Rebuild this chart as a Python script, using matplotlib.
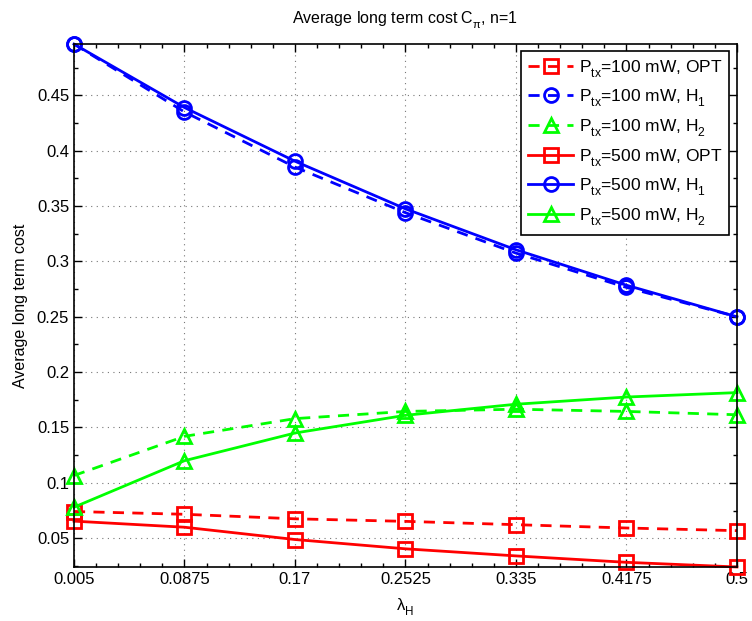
import matplotlib
matplotlib.use("Agg")
import matplotlib.pyplot as plt
import numpy as np
from matplotlib.ticker import AutoMinorLocator

plt.rcParams['font.family'] = ['Liberation Sans', 'DejaVu Sans']
plt.rcParams['mathtext.fontset'] = 'custom'
plt.rcParams['mathtext.rm'] = 'Liberation Sans'
plt.rcParams['mathtext.it'] = 'Liberation Sans'
plt.rcParams['mathtext.sf'] = 'Liberation Sans'

# drop subscripts a bit lower than the mathtext default
try:
    from matplotlib import _mathtext
    _mathtext.FontConstantsBase.sub1 = 0.65
    _mathtext.FontConstantsBase.sub2 = 0.8
except Exception:
    pass

# arrival rates on the x axis
lam_h = [0.005, 0.0875, 0.17, 0.2525, 0.335, 0.4175, 0.5]
lam_labels = ['0.005', '0.0875', '0.17', '0.2525', '0.335', '0.4175', '0.5']

# Ptx = 100 mW
opt_100 = [0.0741, 0.0716, 0.0675, 0.0652, 0.0622, 0.0592, 0.0568]
h1_100 = [0.4963, 0.4350, 0.3852, 0.3440, 0.3075, 0.2765, 0.2500]
h2_100 = [0.1066, 0.1420, 0.1580, 0.1645, 0.1665, 0.1645, 0.1615]

# Ptx = 500 mW
opt_500 = [0.0654, 0.0599, 0.0488, 0.0404, 0.0340, 0.0282, 0.0240]
h1_500 = [0.4963, 0.4390, 0.3905, 0.3475, 0.3105, 0.2785, 0.2500]
h2_500 = [0.0780, 0.1200, 0.1450, 0.1610, 0.1710, 0.1775, 0.1815]

fig = plt.figure(figsize=(7.52, 6.21), dpi=100)
ax = fig.add_axes([0.0984, 0.087, 0.8816, 0.842])

lw = 2.0
ms = 10
series = [
    (opt_100, 'r', 's', '--', r'$\mathregular{P_{tx}}$=100 mW, OPT'),
    (h1_100, 'b', 'o', '--', r'$\mathregular{P_{tx}}$=100 mW, $\mathregular{H_1}$'),
    (h2_100, (0, 1, 0), '^', '--', r'$\mathregular{P_{tx}}$=100 mW, $\mathregular{H_2}$'),
    (opt_500, 'r', 's', '-', r'$\mathregular{P_{tx}}$=500 mW, OPT'),
    (h1_500, 'b', 'o', '-', r'$\mathregular{P_{tx}}$=500 mW, $\mathregular{H_1}$'),
    (h2_500, (0, 1, 0), '^', '-', r'$\mathregular{P_{tx}}$=500 mW, $\mathregular{H_2}$'),
]
for vals, col, mk, ls, lab in series:
    ax.plot(lam_h, vals, color=col, marker=mk, linestyle=ls, linewidth=lw,
            markersize=ms, markerfacecolor='none', markeredgewidth=2.0,
            label=lab, clip_on=False, dashes=(4, 3) if ls == '--' else (None, None))

all_vals = np.concatenate([opt_100, h1_100, h2_100, opt_500, h1_500, h2_500])
ax.set_xlim(lam_h[0], lam_h[-1])
ax.set_ylim(all_vals.min(), all_vals.max())

ax.set_xticks(lam_h)
ax.set_xticklabels(lam_labels)
ax.set_yticks(np.arange(0.05, 0.46, 0.05))
ax.set_yticklabels(['0.05', '0.1', '0.15', '0.2', '0.25', '0.3', '0.35', '0.4', '0.45'])
ax.xaxis.set_minor_locator(AutoMinorLocator(5))
ax.yaxis.set_minor_locator(AutoMinorLocator(2))

ax.tick_params(which='both', direction='in', top=True, right=True, labelsize=12)
ax.tick_params(which='major', length=6, width=1)
ax.tick_params(which='minor', length=3, width=1)
for sp in ax.spines.values():
    sp.set_linewidth(1.2)

ax.grid(True, which='major', linestyle=(0, (1, 4)), color='#777777', linewidth=0.8)

ax.set_title(r'Average long term cost C$_{\pi}$, n=1', fontsize=11.5, pad=15)
ax.set_xlabel(r'$\mathregular{\lambda_H}$', fontsize=12, labelpad=7)
ax.set_ylabel('Average long term cost', fontsize=11.5, labelpad=6)

leg = ax.legend(loc='upper right', fontsize=12.5, fancybox=False, framealpha=1,
                edgecolor='black', borderpad=0.4, labelspacing=0.45,
                handlelength=2.6, handletextpad=0.3, borderaxespad=0,
                bbox_to_anchor=(0.988, 0.987))
leg.get_frame().set_linewidth(1.2)

fig.savefig('out.png', dpi=100)
